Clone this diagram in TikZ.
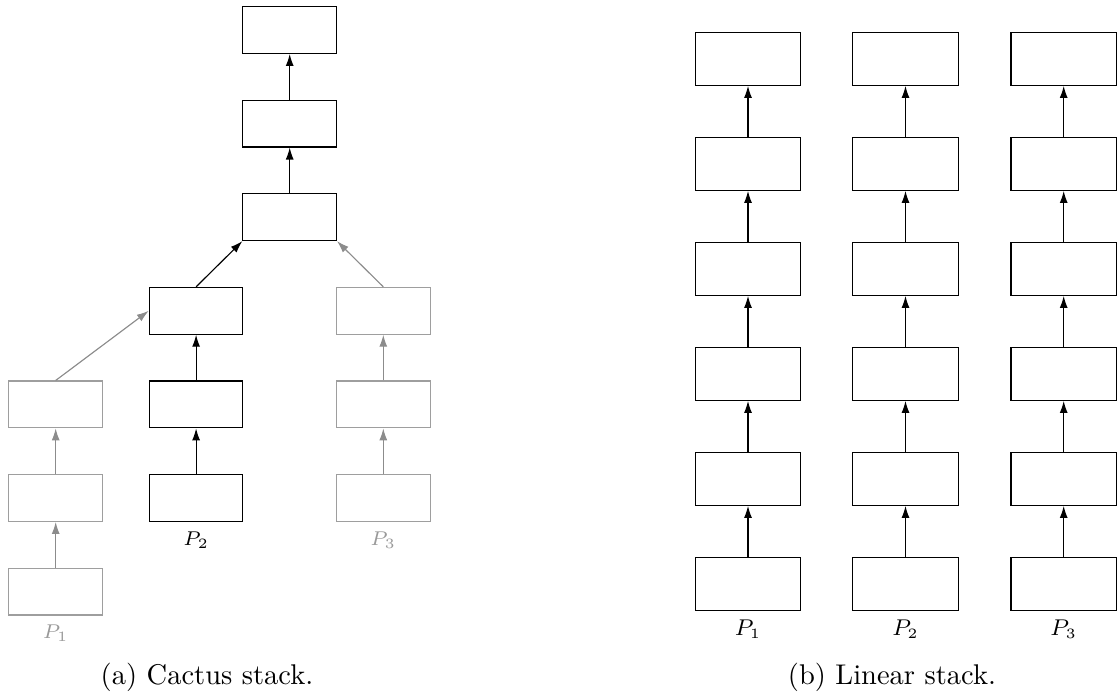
\documentclass[tikz,border=0pt]{standalone}
\usetikzlibrary{arrows.meta,calc}
\begin{document}
\begin{tikzpicture}[x=0.3507pt,y=-0.3507pt,
  cbox/.style={draw=black,minimum width=32.83pt,minimum height=16.41pt,inner sep=0pt},
  gbox/.style={cbox,draw=black!38},
  lbox/.style={draw=black,minimum width=37.0pt,minimum height=18.48pt,inner sep=0pt},
  arr/.style={-{Latex[length=4.2pt,width=2.8pt]},draw=black},
  garr/.style={arr,draw=black!45,fill=black!45},
  clab/.style={font=\fontsize{7}{8}\selectfont,inner sep=0pt},
  llab/.style={font=\fontsize{7.8}{9}\selectfont,inner sep=0pt},
  capt/.style={inner sep=0pt}]
\useasboundingbox (0,0) rectangle (1118,695);
% ---------- cactus stack ----------
\node[cbox] (a0) at (289.7,30) {};
\node[cbox] (a1) at (289.7,123.6) {};
\node[cbox] (a2) at (289.7,217.2) {};
\node[cbox] (b3) at (196.1,310.8) {};
\node[cbox] (b4) at (196.1,404.4) {};
\node[cbox] (b5) at (196.1,498) {};
\node[gbox] (p4) at (55.7,404.4) {};
\node[gbox] (p5) at (55.7,498) {};
\node[gbox] (p6) at (55.7,591.6) {};
\node[gbox] (q3) at (383.3,310.8) {};
\node[gbox] (q4) at (383.3,404.4) {};
\node[gbox] (q5) at (383.3,498) {};
\draw[arr] (a1.north) -- (a0.south);
\draw[arr] (a2.north) -- (a1.south);
\draw[arr] (b3.north) -- (a2.south west);
\draw[arr] (b4.north) -- (b3.south);
\draw[arr] (b5.north) -- (b4.south);
\draw[garr] (p6.north) -- (p5.south);
\draw[garr] (p5.north) -- (p4.south);
\draw[garr] (p4.north) -- (b3.west);
\draw[garr] (q5.north) -- (q4.south);
\draw[garr] (q4.north) -- (q3.south);
\draw[garr] (q3.north) -- (a2.south east);
\node[clab,text=black!40] (lp1) at ($(p6.south)+(0,18)$) {$P_1$};
\node[clab] (lp2) at ($(b5.south)+(0,18)$) {$P_2$};
\node[clab,text=black!40] (lp3) at ($(q5.south)+(0,18)$) {$P_3$};
\node[capt] (capa) at (207,677) {(a) Cactus stack.};
% ---------- linear stack ----------
\foreach \c/\x in {1/748,2/905.5,3/1063.7}{
  \foreach \r in {0,...,5}{
    \node[lbox] (l\c r\r) at (\x,{59+105*\r}) {};
  }
  \foreach \r [evaluate=\r as \s using int(\r-1)] in {1,...,5}{
    \draw[arr] (l\c r\r.north) -- (l\c r\s.south);
  }
  \node[llab] (ll\c) at ($(l\c r5.south)+(0,18)$) {$P_\c$};
}
\node[capt] (capb) at (892,677) {(b) Linear stack.};
\end{tikzpicture}
\end{document}
